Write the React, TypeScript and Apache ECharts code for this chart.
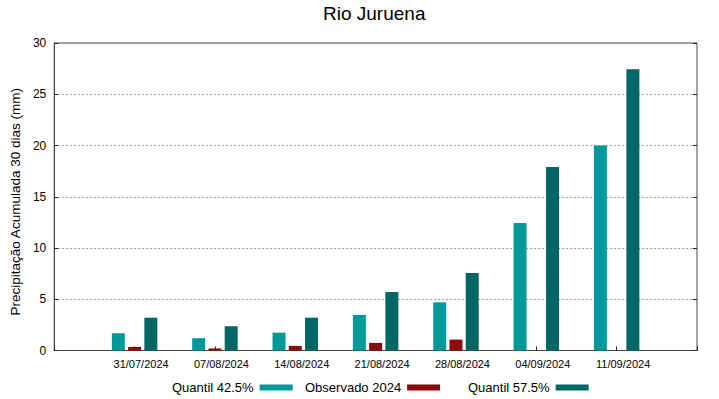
import React, { useEffect, useRef } from "react";
import * as echarts from "echarts";

const categories = ["31/07/2024", "07/08/2024", "14/08/2024", "21/08/2024", "28/08/2024", "04/09/2024", "11/09/2024"];
const quantil425 = [1.68, 1.2, 1.74, 3.47, 4.7, 12.45, 20.0];
const observado2024 = [0.35, 0.2, 0.45, 0.74, 1.06, null, null];
const quantil575 = [3.2, 2.37, 3.2, 5.71, 7.56, 17.9, 27.45];
const yTicks = [0, 5, 10, 15, 20, 25, 30];

const seriesNames = ["Quantil 42.5%", "Observado 2024", "Quantil 57.5%"];
const colors = ["#009999", "#8b0a0a", "#006666"];

const FONT = "'Liberation Sans', Arial, sans-serif";

export default function App() {
  const ref = useRef<HTMLDivElement>(null);
  useEffect(() => {
    if (!ref.current) return;
    const chart = echarts.init(ref.current, undefined, { renderer: "svg" });
    const pad = (arr: (number | null)[]) => [null, ...arr, null];
    const xData = ["", ...categories, ""];
    const legendPos = [172, 305, 468];
    chart.setOption({
      animation: false,
      textStyle: { fontFamily: FONT },
      title: {
        text: "Rio Juruena",
        left: 323,
        top: 4,
        padding: 0,
        textStyle: { fontFamily: FONT, fontSize: 19, fontWeight: "normal", color: "#000" },
      },
      legend: seriesNames.map((n, i) => ({
        data: [n],
        left: legendPos[i],
        top: 381,
        padding: 0,
        align: "right",
        icon: "rect",
        itemWidth: 33,
        itemHeight: 6,
        textStyle: { fontFamily: FONT, fontSize: 13, color: "#000", padding: [0, 1, 0, 0] },
        selectedMode: false,
      })),
      grid: {
        left: 52,
        right: 22,
        top: 43,
        bottom: 48.5,
        show: true,
        borderColor: "#444",
        borderWidth: 1,
        containLabel: false,
      },
      xAxis: {
        type: "category",
        data: xData,
        boundaryGap: false,
        axisLine: { show: true, lineStyle: { color: "#444" } },
        axisTick: { show: true, inside: true, length: 4, interval: 0, lineStyle: { color: "#222" } },
        axisLabel: {
          interval: 0,
          fontFamily: FONT,
          fontSize: 11,
          color: "#000",
          margin: 8,
          padding: [0, 0, 0, 13],
        },
        splitLine: { show: false },
      },
      yAxis: [
        {
          type: "value",
          min: 0,
          max: 30,
          interval: 5,
          name: "Precipitação Acumulada 30 dias (mm)",
          nameLocation: "middle",
          nameGap: 30,
          nameTextStyle: { fontFamily: FONT, fontSize: 13.5, color: "#000", padding: [0, 0, 0, -10] },
          axisLine: { show: true, lineStyle: { color: "#444" } },
          axisTick: { show: true, inside: true, length: 4, lineStyle: { color: "#222" } },
          axisLabel: {
            fontFamily: FONT,
            fontSize: 12,
            color: "#000",
            margin: 8,
            formatter: (v: number) => (yTicks.includes(v) ? String(v) : ""),
          },
          splitLine: { show: true, lineStyle: { color: "#999", type: [2, 2], width: 1 } },
        },
        {
          type: "value",
          min: 0,
          max: 30,
          interval: 5,
          position: "right",
          axisLine: { show: false },
          axisTick: { show: true, inside: true, length: 4, lineStyle: { color: "#222" } },
          axisLabel: { show: false },
          splitLine: { show: false },
        },
      ],
      series: [quantil425, observado2024, quantil575].map((d, i) => ({
        name: seriesNames[i],
        type: "bar",
        data: pad(d),
        barWidth: 13,
        barGap: "25%",
        itemStyle: { color: colors[i] },
        yAxisIndex: 0,
      })),
    });
    return () => chart.dispose();
  }, []);
  return (
    <div
      ref={ref}
      style={{ position: "fixed", left: 0, top: 0, width: 719, height: 399, background: "#fff" }}
    />
  );
}
